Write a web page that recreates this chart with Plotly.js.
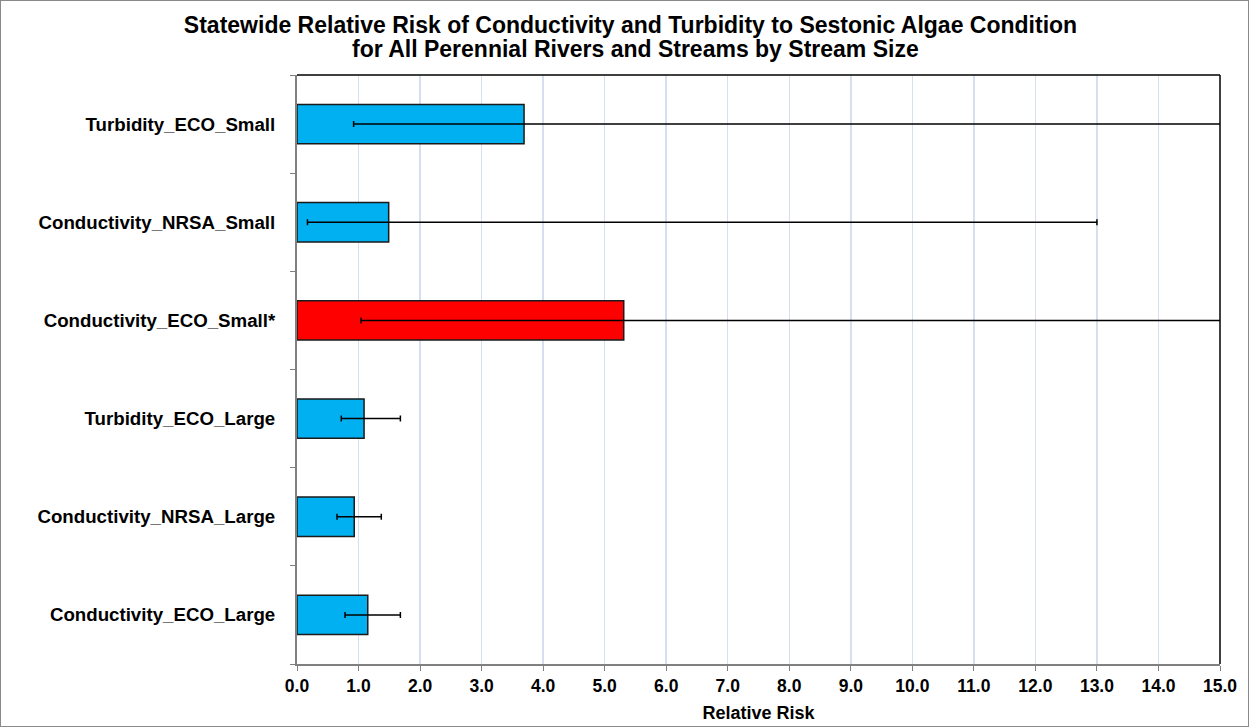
<!DOCTYPE html>
<html>
<head>
<meta charset="utf-8">
<script src="https://cdn.plot.ly/plotly-3.0.1.min.js"></script>
<style>
html,body{margin:0;padding:0;background:#fff;}
#chart{width:1249px;height:727px;box-sizing:border-box;border:1px solid #8a8a8a;}
</style>
</head>
<body>
<div id="chart"></div>
<script>
// Categories listed top to bottom
const categories = ["Turbidity_ECO_Small", "Conductivity_NRSA_Small", "Conductivity_ECO_Small*", "Turbidity_ECO_Large", "Conductivity_NRSA_Large", "Conductivity_ECO_Large"];
const relativeRisk = [3.69, 1.49, 5.31, 1.09, 0.93, 1.15];
const lowerCI = [0.92, 0.17, 1.04, 0.72, 0.65, 0.78];
const upperCI = [17.0, 13.0, 17.0, 1.68, 1.37, 1.68];
const significant = [false, false, true, false, false, false];
const xTickValues = [0,1,2,3,4,5,6,7,8,9,10,11,12,13,14,15];
const titleLine1 = "Statewide Relative Risk of Conductivity and Turbidity to Sestonic Algae Condition";
const titleLine2 = "for All Perennial Rivers and Streams by Stream Size";

const colors = significant.map(s => s ? "#ff0000" : "#00b0f0");
const plus = upperCI.map((u, i) => u - relativeRisk[i]);
const minus = lowerCI.map((l, i) => relativeRisk[i] - l);
const FONT = "Liberation Sans, Arial, sans-serif";

const trace = {
  type: "bar",
  orientation: "h",
  y: categories,
  x: relativeRisk,
  width: 0.4,
  marker: {color: colors, line: {color: "#1a1a1a", width: 1.5}},
  error_x: {type: "data", symmetric: false, array: plus, arrayminus: minus, color: "#000", thickness: 1.5, width: 3},
  hoverinfo: "x+y"
};

const layout = {
  width: 1249, height: 727,
  margin: {l: 296, r: 30, t: 74, b: 64},
  paper_bgcolor: "rgba(0,0,0,0)",
  plot_bgcolor: "#fff",
  showlegend: false,
  title: {
    text: "<b>" + titleLine1 + "</b>",
    font: {family: FONT, size: 23, color: "#000"},
    x: 0.504, xanchor: "center", xref: "container",
    y: 0.967, yanchor: "middle", yref: "container"
  },
  annotations: [{
    text: "<b>" + titleLine2 + "</b>",
    font: {family: FONT, size: 23, color: "#000"},
    xref: "paper", yref: "paper", x: 0.367, y: 1.044,
    xanchor: "center", yanchor: "middle", showarrow: false
  }],
  xaxis: {
    range: [0, 15],
    tickvals: xTickValues,
    ticktext: xTickValues.map(v => "<b>" + v.toFixed(1) + "</b>"),
    tickfont: {family: FONT, size: 17.5, color: "#000"},
    ticks: "outside", ticklen: 5, tickcolor: "#808080", tickwidth: 1,
    showgrid: true, gridcolor: "#d6dff0", gridwidth: 1.5,
    showline: true, linecolor: "#808080", linewidth: 2,
    zeroline: false,
    title: {text: "<b>Relative Risk</b>", font: {family: FONT, size: 18, color: "#000"}, standoff: 11},
    fixedrange: true
  },
  yaxis: {
    type: "category",
    autorange: "reversed",
    categoryorder: "array", categoryarray: categories,
    ticktext: categories.map(c => "<b>" + c + "</b>"),
    tickvals: categories,
    tickfont: {family: FONT, size: 18.7, color: "#000"},
    ticks: "outside", tickson: "boundaries", ticklen: 5, tickcolor: "#808080",
    ticklabelstandoff: 16,
    showgrid: false,
    showline: true, linecolor: "#808080", linewidth: 2,
    zeroline: false,
    fixedrange: true
  },
  shapes: [
    {type: "line", xref: "paper", yref: "paper", x0: 0, x1: 1, y0: 1, y1: 1, line: {color: "#000", width: 1.5}},
    {type: "line", xref: "paper", yref: "paper", x0: 1, x1: 1, y0: 0, y1: 1, line: {color: "#000", width: 1.5}}
  ]
};

Plotly.newPlot("chart", [trace], layout, {displayModeBar: false, staticPlot: true});
</script>
</body>
</html>
